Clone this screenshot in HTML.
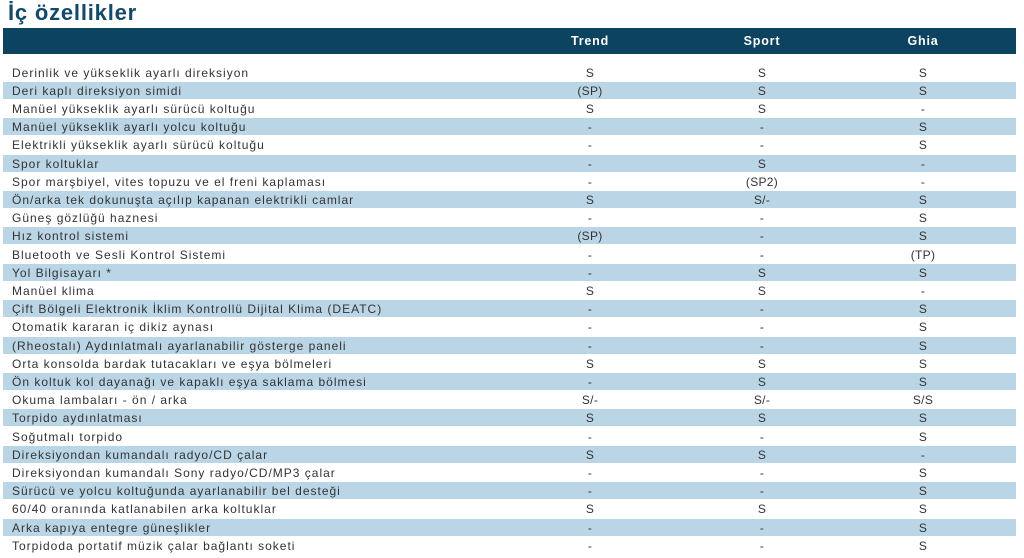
<!DOCTYPE html>
<html><head><meta charset="utf-8"><style>
body{margin:0;width:1024px;height:558px;background:#fff;position:relative;overflow:hidden;font-family:"Liberation Sans",sans-serif}
.t{position:absolute;left:8px;top:0px;font-size:22px;font-weight:bold;color:#124a68;letter-spacing:0.8px}
.h{position:absolute;left:3px;top:28px;width:1013px;height:26px;background:#0b4360}
.hl{position:absolute;top:34px;color:#fff;font-weight:bold;font-size:12.5px;width:100px;margin-left:-50px;text-align:center;letter-spacing:0.8px}
.r{position:absolute;left:3px;width:1013px;height:17px}
.r.b{background:#bad5e6}
.r span{position:absolute;top:2px;font-size:12px;color:#333;letter-spacing:1px;white-space:nowrap}
.r .n{left:9px}
.r .c{width:100px;margin-left:-50px;text-align:center;letter-spacing:0.3px}
</style></head><body>
<div class="t">İç özellikler</div>
<div class="h"></div>
<div class="hl" style="left:590px">Trend</div>
<div class="hl" style="left:762px">Sport</div>
<div class="hl" style="left:923px">Ghia</div>
<div id="rows"></div>
<script>
var d=[
["Derinlik ve yükseklik ayarlı direksiyon","S","S","S"],
["Deri kaplı direksiyon simidi","(SP)","S","S"],
["Manüel yükseklik ayarlı sürücü koltuğu","S","S","-"],
["Manüel yükseklik ayarlı yolcu koltuğu","-","-","S"],
["Elektrikli yükseklik ayarlı sürücü koltuğu","-","-","S"],
["Spor koltuklar","-","S","-"],
["Spor marşbiyel, vites topuzu ve el freni kaplaması","-","(SP2)","-"],
["Ön/arka tek dokunuşta açılıp kapanan elektrikli camlar","S","S/-","S"],
["Güneş gözlüğü haznesi","-","-","S"],
["Hız kontrol sistemi","(SP)","-","S"],
["Bluetooth ve Sesli Kontrol Sistemi","-","-","(TP)"],
["Yol Bilgisayarı *","-","S","S"],
["Manüel klima","S","S","-"],
["Çift Bölgeli Elektronik İklim Kontrollü Dijital Klima (DEATC)","-","-","S"],
["Otomatik kararan iç dikiz aynası","-","-","S"],
["(Rheostalı) Aydınlatmalı ayarlanabilir gösterge paneli","-","-","S"],
["Orta konsolda bardak tutacakları ve eşya bölmeleri","S","S","S"],
["Ön koltuk kol dayanağı ve kapaklı eşya saklama bölmesi","-","S","S"],
["Okuma lambaları - ön / arka","S/-","S/-","S/S"],
["Torpido aydınlatması","S","S","S"],
["Soğutmalı torpido","-","-","S"],
["Direksiyondan kumandalı radyo/CD çalar","S","S","-"],
["Direksiyondan kumandalı Sony radyo/CD/MP3 çalar","-","-","S"],
["Sürücü ve yolcu koltuğunda ayarlanabilir bel desteği","-","-","S"],
["60/40 oranında katlanabilen arka koltuklar","S","S","S"],
["Arka kapıya entegre güneşlikler","-","-","S"],
["Torpidoda portatif müzik çalar bağlantı soketi","-","-","S"]];
var h="";
d.forEach(function(r,i){
var top=(63.5+i*18.2).toFixed(1);
h+='<div class="r'+(i%2?' b':'')+'" style="top:'+top+'px"><span class="n">'+r[0]+'</span><span class="c" style="left:587px">'+r[1]+'</span><span class="c" style="left:759px">'+r[2]+'</span><span class="c" style="left:920px">'+r[3]+'</span></div>';
});
document.getElementById("rows").innerHTML=h;
</script>
</body></html>
